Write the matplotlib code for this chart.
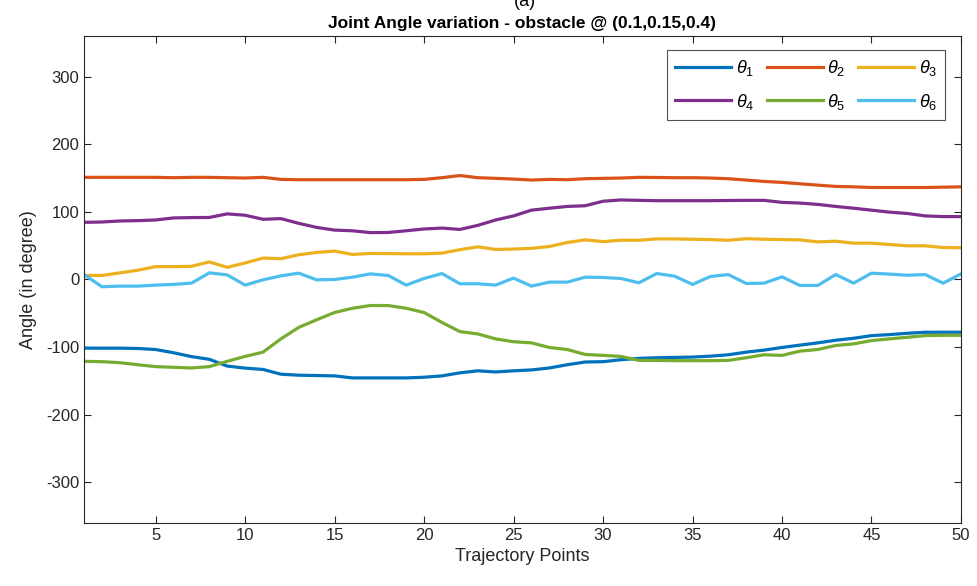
import numpy as np
import matplotlib
matplotlib.use('Agg')
import matplotlib.pyplot as plt

plt.rcParams['font.family'] = ['Liberation Sans', 'DejaVu Sans']
plt.rcParams['mathtext.fontset'] = 'custom'
plt.rcParams['mathtext.it'] = 'Liberation Sans:italic'
plt.rcParams['mathtext.rm'] = 'Liberation Sans'
plt.rcParams['axes.unicode_minus'] = False

points = np.arange(1, 51)

theta1 = [-101.5, -101.5, -101.5, -102, -103.5, -108.3, -114, -118, -128, -131,
          -133, -140, -141.5, -142, -142.5, -145.5, -145.5, -145.5, -145.5, -144.5,
          -142.5, -138, -135, -136.7, -135, -133.7, -130.8, -126, -122, -121.5,
          -118.6, -116.6, -115.7, -115.2, -114.7, -113.3, -111.3, -107.4, -104.4, -100.5,
          -97, -93.7, -89.8, -86.9, -83, -81.5, -79.5, -78, -78, -78]
theta2 = [151, 151, 151, 151, 151, 150.5, 151, 151, 150.5, 150,
          151, 148, 147.5, 147.5, 147.5, 147.5, 147.5, 147.5, 147.5, 148,
          150.5, 153.7, 150.5, 149.5, 148.5, 147, 148, 147.5, 149, 149.5,
          150, 151, 150.8, 150.5, 150.5, 150, 149, 147, 145, 143.5,
          141.5, 139.5, 137.6, 137, 136, 136, 136, 136, 136.5, 137]
theta3 = [5.9, 6, 9.8, 13.7, 19, 19, 19.5, 26, 18, 24.4,
          31.7, 30.7, 36.6, 40, 42, 37, 38.5, 38.3, 38, 38,
          39, 44, 48.3, 44.4, 45, 46, 48.8, 54.7, 58.6, 56,
          58, 58, 60, 60, 59.5, 59, 58, 60.3, 59.5, 59,
          58.6, 55.6, 56.6, 53.7, 53.7, 51.7, 49.8, 49.8, 47.3, 47]
theta4 = [84.5, 85, 86.5, 87, 88, 91, 91.5, 91.7, 97, 95,
          89, 90, 83, 77, 73, 72, 69.3, 69.5, 72, 74.7,
          76, 74, 80, 88, 94, 102.5, 105.4, 108, 109, 115.7,
          117.6, 117, 116.5, 116.5, 116.5, 116.5, 116.8, 117, 117, 114,
          113, 111, 108, 105.4, 102.5, 99.6, 97.6, 94, 93, 93]
theta5 = [-121, -121.5, -123, -126, -128.8, -129.8, -130.8, -128.8, -121, -113.7,
          -107.4, -87.8, -70.8, -59.5, -48.8, -42.5, -38.5, -38.5, -42.5, -48.8,
          -63.5, -77, -80.5, -87.8, -92, -93.7, -100.5, -103.5, -110.8, -112.2,
          -113.7, -119.6, -119.6, -120, -120, -120, -119.6, -115.7, -111.3, -112.2,
          -105.9, -103.5, -97.6, -95.2, -90.3, -87.8, -85.4, -83, -82.5, -82.5]
theta6 = [7.3, -10.7, -9.8, -9.8, -8.3, -7.3, -5.4, 9.8, 6.8, -8.3,
          -0.5, 5.4, 9.3, -0.5, 0, 3.4, 8.3, 5.9, -8.3, 1.5,
          8.8, -6.3, -6.3, -8.3, 2, -9.8, -3.9, -3.9, 3.4, 3,
          1.5, -4.9, 8.8, 4.9, -7.3, 4.4, 7.3, -5.9, -5.4, 3.9,
          -8.8, -8.8, 7.3, -5.4, 9.3, 8, 6.3, 7.3, -5.4, 8.3]

series = [theta1, theta2, theta3, theta4, theta5, theta6]
labels = [r'$\theta_1$', r'$\theta_2$', r'$\theta_3$',
          r'$\theta_4$', r'$\theta_5$', r'$\theta_6$']
colors = ['#0072BD', '#D95319', '#EDB120', '#7E2F8E', '#77AC30', '#4DBEEE']

fig = plt.figure(figsize=(9.77, 5.86), dpi=100)
ax = fig.add_axes([0.086, 0.1075, 0.8976, 0.8311])

lines = []
for y, lab, c in zip(series, labels, colors):
    ln, = ax.plot(points, y, color=c, lw=2.3, label=lab)
    lines.append(ln)

ax.set_xlim(1, 50)
ax.set_ylim(-360, 360)
ax.set_xticks(np.arange(5, 51, 5))
ax.set_yticks(np.arange(-300, 301, 100))
ax.tick_params(direction='in', top=True, right=True, length=5,
               labelsize=12, colors='#262626', width=0.8)
for s in ax.spines.values():
    s.set_color('#262626')
    s.set_linewidth(0.8)

ax.set_xlabel('Trajectory Points', fontsize=13, color='#262626', labelpad=4)
ax.set_ylabel('Angle (in degree)', fontsize=13, color='#262626', labelpad=6)
ax.set_title('Joint Angle variation - obstacle @ (0.1,0.15,0.4)',
             fontsize=12.5, fontweight='bold', color='black', pad=6)
fig.text(0.537, 0.998, '(a)', fontsize=13, ha='center', va='center', color='black')

# row-wise legend order like MATLAB: column-major reorder
order = [0, 3, 1, 4, 2, 5]
leg = ax.legend([lines[i] for i in order], [labels[i] for i in order],
                loc='upper right', ncol=3, fontsize=13, handlelength=3.1,
                columnspacing=0.7, handletextpad=0.25, borderpad=0.45,
                labelspacing=0.75, frameon=True, fancybox=False,
                borderaxespad=0, bbox_to_anchor=(0.982, 0.971))
leg.get_frame().set_edgecolor('#262626')
leg.get_frame().set_linewidth(0.8)

plt.savefig('out.png', dpi=100)
